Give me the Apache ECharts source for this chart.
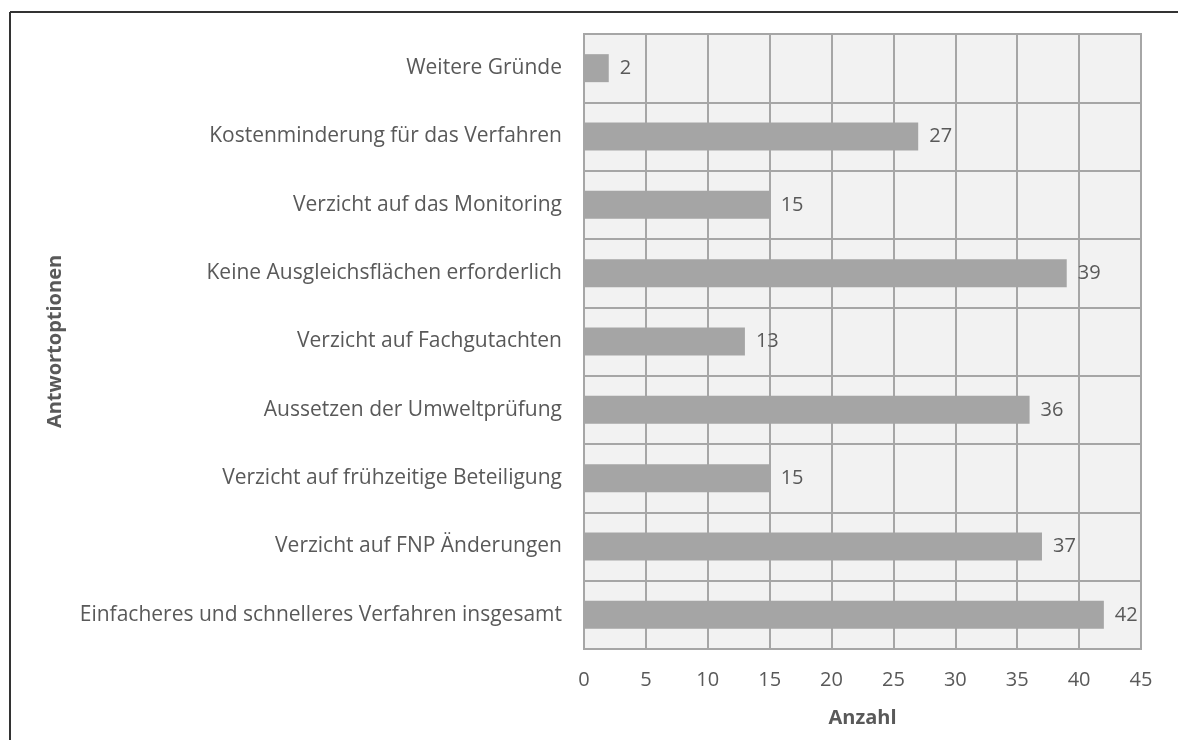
<!DOCTYPE html>
<html>
<head>
<meta charset="utf-8">
<script src="https://cdn.jsdelivr.net/npm/echarts@6/dist/echarts.min.js"></script>
<style>
  html, body { margin: 0; padding: 0; background: #fff; }
  #chart { width: 1178px; height: 740px; }
</style>
</head>
<body>
<div id="chart"></div>
<script>
// Antwortoptionen, von unten nach oben
var categories = [
  'Einfacheres und schnelleres Verfahren insgesamt',
  'Verzicht auf FNP Änderungen',
  'Verzicht auf frühzeitige Beteiligung',
  'Aussetzen der Umweltprüfung',
  'Verzicht auf Fachgutachten',
  'Keine Ausgleichsflächen erforderlich',
  'Verzicht auf das Monitoring',
  'Kostenminderung für das Verfahren',
  'Weitere Gründe'
]
var values = [42, 37, 15, 36, 13, 39, 15, 27, 2]
var xMin = 0
var xMax = 45
var xStep = 5

var fontFamily = '"Open Sans", "DejaVu Sans", sans-serif'
var textColor = '#595959'
var lineColor = '#a6a6a6'

var myChart = echarts.init(document.getElementById('chart'))
var option = {
  backgroundColor: '#fff',
  animation: false,
  textStyle: { fontFamily: fontFamily },
  graphic: [
    // Rahmen oben und links
    { type: 'line', shape: { x1: 10, y1: 12, x2: 1178, y2: 12 }, style: { stroke: '#333', lineWidth: 2 } },
    { type: 'line', shape: { x1: 10, y1: 12, x2: 10, y2: 740 }, style: { stroke: '#333', lineWidth: 2 } }
  ],
  grid: {
    left: 584,
    right: 37,
    top: 34,
    bottom: 91,
    show: true,
    backgroundColor: '#f2f2f2',
    borderColor: lineColor,
    borderWidth: 2
  },
  xAxis: {
    type: 'value',
    min: xMin,
    max: xMax,
    interval: xStep,
    name: 'Anzahl',
    nameLocation: 'middle',
    nameGap: 59,
    nameTextStyle: { color: textColor, fontSize: 20, fontWeight: 'bold', fontFamily: fontFamily },
    axisLine: { show: false },
    axisTick: { show: false },
    axisLabel: { color: textColor, fontSize: 20, margin: 21 },
    splitLine: { show: true, lineStyle: { color: lineColor, width: 2 } }
  },
  yAxis: {
    type: 'category',
    data: categories,
    name: 'Antwortoptionen',
    nameLocation: 'middle',
    nameGap: 519,
    nameRotate: 90,
    nameTextStyle: { color: textColor, fontSize: 20, fontWeight: 'bold', fontFamily: fontFamily },
    axisLine: { show: false },
    axisTick: { show: false },
    axisLabel: { color: textColor, fontSize: 21, margin: 22 },
    splitLine: { show: true, lineStyle: { color: lineColor, width: 2 } }
  },
  series: [
    {
      type: 'bar',
      data: values,
      barWidth: 28,
      itemStyle: { color: '#a5a5a5' },
      label: {
        show: true,
        position: 'right',
        distance: 11,
        color: textColor,
        fontSize: 20,
        fontFamily: fontFamily
      }
    }
  ]
}
option && myChart.setOption(option)
</script>
</body>
</html>
